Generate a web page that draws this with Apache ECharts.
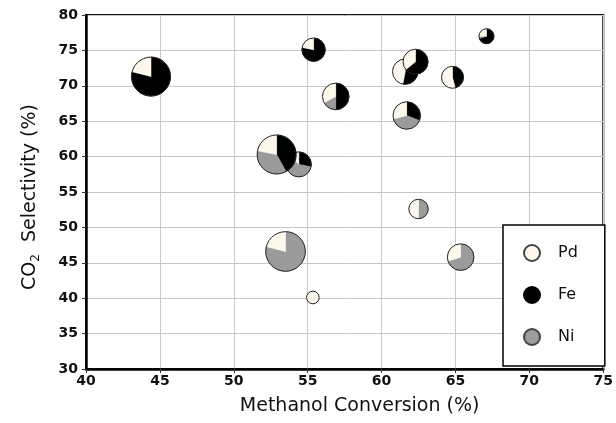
<!DOCTYPE html>
<html>
<head>
<meta charset="utf-8">
<script src="https://cdn.jsdelivr.net/npm/echarts@6/dist/echarts.min.js"></script>
<style>
html,body{margin:0;padding:0;background:#fff;}
#chart{width:616px;height:423px;}
</style>
</head>
<body>
<div id="chart"></div>
<script>
// Methanol conversion (%) for each catalyst (x)
const conversion  = [44.4, 55.4, 56.9, 54.4, 52.9, 53.5, 55.35, 62.5, 65.35, 61.7, 61.6, 62.3, 64.8, 67.1];
// CO2 selectivity (%) (y)
const selectivity = [71.3, 75.1, 68.5, 58.9, 60.3, 46.6, 40.1, 52.6, 45.8, 65.8, 72.0, 73.4, 71.2, 77.0];
// relative bubble size
const bubbleSize  = [19.5, 11.7, 13.3, 12.5, 19.5, 19.8, 6.3, 9.7, 13.3, 13.7, 12.7, 12.5, 11.0, 7.5];
// composition fractions
const feShare = [0.79, 0.78, 0.50, 0.28, 0.42, 0.00, 0.00, 0.00, 0.00, 0.31, 0.53, 0.64, 0.46, 0.70];
const niShare = [0.00, 0.00, 0.17, 0.60, 0.36, 0.79, 0.00, 0.50, 0.70, 0.40, 0.00, 0.00, 0.00, 0.05];
const pdShare = [0.21, 0.22, 0.33, 0.12, 0.22, 0.21, 1.00, 0.50, 0.30, 0.29, 0.47, 0.36, 0.54, 0.25];
const metals = ['Pd', 'Fe', 'Ni'];

const COLORS = { Pd: '#fcf9ec', Fe: '#000000', Ni: '#9b9b9b' };
const SIZE_SCALE = 1;
const FONT = '"DejaVu Sans", "Liberation Sans", Arial, sans-serif';

const pieData = conversion.map((x, i) => [x, selectivity[i], bubbleSize[i], feShare[i], niShare[i], pdShare[i]]);

function renderPie(params, api) {
  const c = api.coord([api.value(0), api.value(1)]);
  const r = api.value(2) * SIZE_SCALE;
  const parts = [[api.value(3), COLORS.Fe], [api.value(4), COLORS.Ni], [api.value(5), COLORS.Pd]];
  const children = [];
  let acc = 0;
  parts.forEach(([share, color]) => {
    if (share <= 0) return;
    const start = -Math.PI / 2 + acc * 2 * Math.PI;
    acc += share;
    const end = -Math.PI / 2 + acc * 2 * Math.PI;
    children.push({
      type: 'sector',
      shape: { cx: c[0], cy: c[1], r0: 0, r: r, startAngle: start, endAngle: end, clockwise: true },
      style: { fill: color, stroke: color, lineWidth: 0.5 }
    });
  });
  children.push({
    type: 'circle',
    shape: { cx: c[0], cy: c[1], r: r },
    style: { fill: 'none', stroke: '#222', lineWidth: 1 }
  });
  return { type: 'group', children };
}

const chart = echarts.init(document.getElementById('chart'), null, { renderer: 'canvas' });

const legendSeries = metals.map(m => ({
  name: m,
  type: 'scatter',
  data: [],
  symbol: 'circle',
  itemStyle: { color: COLORS[m], opacity: 1, borderColor: m === 'Fe' ? '#000' : '#444', borderWidth: 1 }
}));

chart.setOption({
  animation: false,
  backgroundColor: '#ffffff',
  grid: {
    left: 86, top: 15, right: 11, bottom: 54,
    show: true, borderColor: '#111', borderWidth: 2, backgroundColor: 'transparent'
  },
  xAxis: {
    type: 'value', min: 40, max: 75, interval: 5,
    name: 'Methanol Conversion (%)',
    nameLocation: 'middle', nameGap: 28,
    nameTextStyle: { fontFamily: FONT, fontSize: 19, color: '#111', padding: [0, 0, 0, 30] },
    axisLine: { show: true, lineStyle: { color: '#000', width: 2.5 } },
    axisTick: { show: true, inside: false, length: 4, lineStyle: { color: '#333' } },
    axisLabel: { fontFamily: FONT, fontSize: 14, fontWeight: 'bold', color: '#111', margin: 5 },
    splitLine: { show: true, lineStyle: { color: '#c8c8c8', width: 1 } }
  },
  yAxis: {
    type: 'value', min: 30, max: 80, interval: 5,
    name: '{a|CO}{b|2}{a|  Selectivity (%)}',
    nameLocation: 'middle', nameGap: 44, nameRotate: 90,
    nameTextStyle: {
      fontFamily: FONT, color: '#111', padding: [0, 10, 0, 0],
      rich: {
        a: { fontFamily: FONT, fontSize: 19, color: '#111', lineHeight: 24, verticalAlign: 'middle' },
        b: { fontFamily: FONT, fontSize: 12, color: '#111', lineHeight: 10, verticalAlign: 'bottom' }
      }
    },
    axisLine: { show: true, lineStyle: { color: '#000', width: 2.5 } },
    axisTick: { show: true, inside: false, length: 4, lineStyle: { color: '#333' } },
    axisLabel: { fontFamily: FONT, fontSize: 14, fontWeight: 'bold', color: '#111', margin: 8 },
    splitLine: { show: true, lineStyle: { color: '#c8c8c8', width: 1 } }
  },
  legend: {
    data: metals,
    orient: 'vertical',
    left: 503, top: 225,
    icon: 'circle',
    itemWidth: 16, itemHeight: 16, itemGap: 24,
    padding: [19, 27, 20, 20],
    backgroundColor: '#ffffff',
    borderColor: '#000', borderWidth: 1.5,
    selectedMode: false,
    z: 10,
    itemStyle: { opacity: 1 },
    textStyle: { fontFamily: FONT, fontSize: 16, color: '#111', padding: [0, 0, 0, 13] }
  },
  series: [
    {
      type: 'custom',
      renderItem: renderPie,
      data: pieData,
      encode: { x: 0, y: 1 },
      z: 5
    }
  ].concat(legendSeries)
});
</script>
</body>
</html>
